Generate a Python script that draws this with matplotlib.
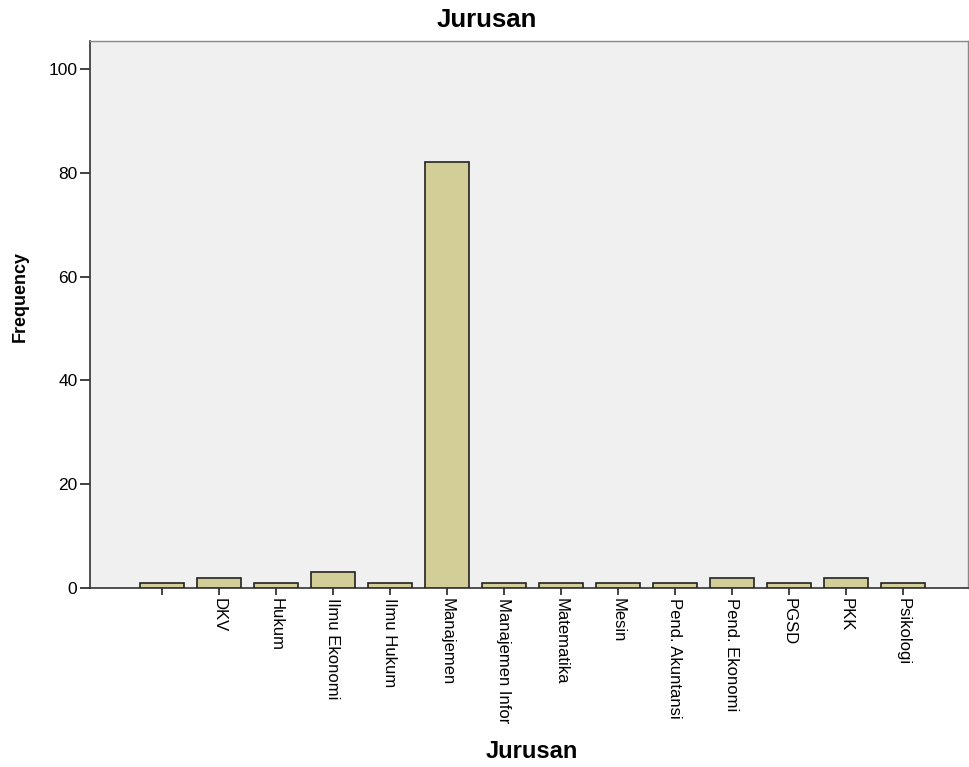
import matplotlib
matplotlib.use("Agg")
import matplotlib.pyplot as plt
import numpy as np

categories = ["", "DKV", "Hukum", "Ilmu Ekonomi", "Ilmu Hukum", "Manajemen",
              "Manajemen Infor", "Matematika", "Mesin", "Pend. Akuntansi",
              "Pend. Ekonomi", "PGSD", "PKK", "Psikologi"]
frequency = [1, 2, 1, 3, 1, 82, 1, 1, 1, 1, 2, 1, 2, 1]
yticks = [0, 20, 40, 60, 80, 100]

plt.rcParams['font.family'] = ['Liberation Sans', 'DejaVu Sans']

W, H = 970, 767
fig = plt.figure(figsize=(W / 100, H / 100), dpi=100)
ax = fig.add_axes([90 / W, 1 - 588 / H, (968 - 90) / W, (588 - 41) / H])
ax.set_facecolor('#F0F0F0')

x = np.arange(len(categories))
ax.bar(x, frequency, width=0.77, color='#D3CE97', edgecolor='#222222', linewidth=1.2, zorder=3)

ax.set_xlim(-1.26, 14.14)
ax.set_ylim(0, 105.4)
ax.set_yticks(yticks)
ax.set_yticklabels([str(v) for v in yticks], fontsize=12.5)
ax.set_xticks(x)
ax.set_xticklabels(categories, rotation=270, fontsize=12, ha='center', va='top')

ax.tick_params(axis='y', length=7, width=1.2, color='#222222', pad=2)
ax.tick_params(axis='x', length=5, width=1.2, color='#222222', pad=2)

for s in ['left', 'bottom']:
    ax.spines[s].set_color('#333333')
    ax.spines[s].set_linewidth(1.2)
for s in ['top', 'right']:
    ax.spines[s].set_color('#888888')
    ax.spines[s].set_linewidth(1.0)

fig.text(487 / W, 1 - 20 / H, "Jurusan", fontsize=18.5, fontweight='bold', ha='center', va='center')
fig.text(20 / W, 1 - 297 / H, "Frequency", fontsize=13, fontweight='bold', rotation=90,
         ha='center', va='center')
fig.text(532 / W, 1 - 751 / H, "Jurusan", fontsize=17, fontweight='bold', ha='center', va='center')

fig.savefig("out.png", dpi=100)
